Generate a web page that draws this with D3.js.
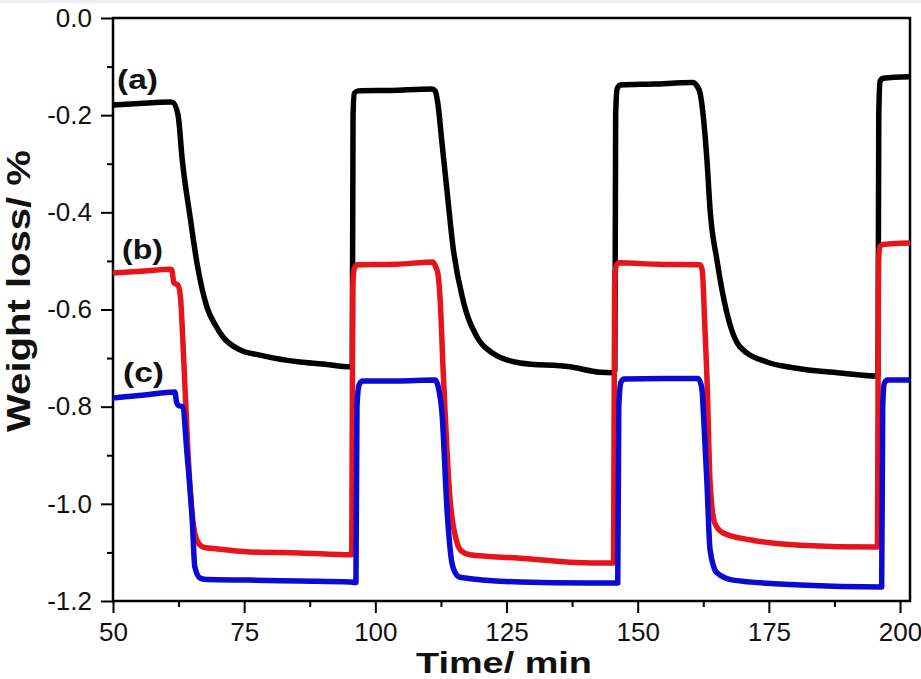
<!DOCTYPE html>
<html><head><meta charset="utf-8">
<script src="https://cdn.jsdelivr.net/npm/d3@7"></script>
<style>
html,body{margin:0;padding:0;background:#fff;}
svg{display:block;}
text{font-family:Arial,"Liberation Sans",sans-serif;}
</style></head>
<body>
<svg id="chart" width="921" height="679"></svg>
<script>
// ---- data ----
const xTicks = [50, 75, 100, 125, 150, 175, 200];
const yTicks = [0.0, -0.2, -0.4, -0.6, -0.8, -1.0, -1.2];
const seriesLabels = ["(a)", "(b)", "(c)"];
const seriesColors = ["#000000", "#e8141c", "#0a0ad2"];

const timeA = [50, 55, 60.9, 61.4, 62.4, 63.2, 64.7, 66.0, 67.9, 69.5, 71.0, 74.2, 78.0, 85.6, 90, 95.3, 95.6, 95.75, 96.0, 96.7, 103, 110.8, 111.4, 111.9, 112.7, 113.7, 114.8, 116.7, 119.4, 122.4, 127.6, 137.1, 142.8, 145.4, 145.65, 145.8, 146.1, 146.7, 153, 160.5, 161.3, 161.9, 163.2, 163.8, 165.1, 167.0, 169.5, 174.6, 179.6, 189.1, 195.6, 195.8, 195.95, 196.2, 196.8, 202];
const lossA = [-0.179, -0.176, -0.173, -0.174, -0.200, -0.292, -0.410, -0.504, -0.595, -0.632, -0.657, -0.683, -0.694, -0.708, -0.712, -0.718, -0.718, -0.20, -0.155, -0.150, -0.149, -0.146, -0.150, -0.175, -0.257, -0.360, -0.471, -0.580, -0.657, -0.690, -0.710, -0.718, -0.729, -0.730, -0.725, -0.20, -0.145, -0.138, -0.136, -0.133, -0.140, -0.155, -0.292, -0.395, -0.498, -0.607, -0.677, -0.708, -0.720, -0.731, -0.737, -0.735, -0.20, -0.130, -0.124, -0.121];

const timeB = [50, 56, 60.9, 61.2, 61.6, 62.4, 62.9, 63.3, 64.3, 65.2, 66.0, 67.2, 70, 76.1, 85.6, 95.5, 95.7, 96.0, 96.6, 104, 111.0, 111.5, 111.9, 112.4, 112.9, 113.3, 114.2, 115.6, 116.5, 118.0, 127.6, 137.1, 145.4, 145.6, 145.9, 146.4, 154, 161.9, 162.3, 162.8, 163.2, 163.8, 164.7, 166.3, 171.4, 180.9, 195.7, 195.9, 196.2, 196.8, 202];
const lossB = [-0.525, -0.521, -0.517, -0.518, -0.545, -0.550, -0.580, -0.660, -0.896, -1.033, -1.075, -1.089, -1.093, -1.099, -1.101, -1.105, -0.550, -0.515, -0.508, -0.507, -0.502, -0.512, -0.525, -0.590, -0.720, -0.813, -0.986, -1.081, -1.098, -1.105, -1.112, -1.120, -1.122, -0.550, -0.510, -0.504, -0.507, -0.508, -0.519, -0.636, -0.739, -0.957, -1.040, -1.060, -1.074, -1.085, -1.089, -0.500, -0.470, -0.466, -0.463];

const timeC = [50, 56, 61.8, 62.1, 62.4, 63.3, 64.1, 65.1, 65.6, 66.6, 68, 76.1, 85.6, 95.2, 96.3, 96.5, 96.9, 97.6, 104, 111.4, 112.0, 112.7, 113.7, 114.6, 115.3, 116.1, 127.6, 140.3, 146.2, 146.4, 146.8, 147.4, 155, 161.5, 162.2, 162.7, 163.2, 163.8, 165.1, 168.2, 180.9, 196.5, 196.7, 197.0, 197.6, 202];
const lossC = [-0.782, -0.776, -0.770, -0.790, -0.797, -0.801, -0.896, -1.033, -1.130, -1.153, -1.156, -1.157, -1.159, -1.161, -1.162, -0.800, -0.755, -0.747, -0.747, -0.745, -0.760, -0.813, -1.019, -1.122, -1.143, -1.151, -1.161, -1.163, -1.163, -0.800, -0.750, -0.743, -0.742, -0.742, -0.760, -0.850, -0.957, -1.095, -1.142, -1.157, -1.167, -1.171, -0.800, -0.752, -0.745, -0.745];

// ---- layout ----
const svg = d3.select("#chart");
const W = 921, H = 679;
const m = {left: 113, right: 910, top: 18, bottom: 601};

svg.append("rect").attr("x", 0).attr("y", 0).attr("width", W).attr("height", H).attr("fill", "#fff");
svg.append("rect").attr("x", 0).attr("y", 0).attr("width", W).attr("height", 3).attr("fill", "#eceef4");

const x = d3.scaleLinear().domain([50, 201.9]).range([m.left, m.right]);
const y = d3.scaleLinear().domain([-1.2, 0]).range([m.bottom, m.top]);

// minor ticks
const xMinor = d3.range(62.5, 201, 25);
const yMinor = d3.range(-1.1, 0, 0.2);

const fmt = v => (Math.abs(v) < 1e-9 ? 0 : v).toFixed(1);

// x axis
const gx = svg.append("g").attr("transform", `translate(0,${m.bottom})`)
  .call(d3.axisBottom(x).tickValues(xTicks).tickSize(12).tickPadding(10).tickFormat(d3.format("d")));
gx.select(".domain").remove();
gx.selectAll(".tick line").attr("stroke", "#000").attr("stroke-width", 2);
gx.selectAll(".tick text").attr("font-size", 26).attr("fill", "#111").attr("font-family", "Arial, Liberation Sans, sans-serif");
const gxm = svg.append("g").attr("transform", `translate(0,${m.bottom})`)
  .call(d3.axisBottom(x).tickValues(xMinor).tickSize(6).tickFormat(""));
gxm.select(".domain").remove();
gxm.selectAll(".tick line").attr("stroke", "#000").attr("stroke-width", 2);

// y axis
const gy = svg.append("g").attr("transform", `translate(${m.left},0)`)
  .call(d3.axisLeft(y).tickValues(yTicks).tickSize(12).tickPadding(9).tickFormat(fmt));
gy.select(".domain").remove();
gy.selectAll(".tick line").attr("stroke", "#000").attr("stroke-width", 2);
gy.selectAll(".tick text").attr("font-size", 26).attr("fill", "#111").attr("font-family", "Arial, Liberation Sans, sans-serif");
const gym = svg.append("g").attr("transform", `translate(${m.left},0)`)
  .call(d3.axisLeft(y).tickValues(yMinor).tickSize(6).tickFormat(""));
gym.select(".domain").remove();
gym.selectAll(".tick line").attr("stroke", "#000").attr("stroke-width", 2);

// frame
svg.append("rect").attr("x", m.left).attr("y", m.top)
  .attr("width", m.right - m.left).attr("height", m.bottom - m.top)
  .attr("fill", "none").attr("stroke", "#000").attr("stroke-width", 2.5);

// curves
const series = [
  {t: timeA, v: lossA},
  {t: timeB, v: lossB},
  {t: timeC, v: lossC}
];
const clip = svg.append("clipPath").attr("id", "plotclip").append("rect")
  .attr("x", m.left).attr("y", m.top - 5).attr("width", m.right - m.left).attr("height", m.bottom - m.top + 5);
const line = d3.line().x(d => x(d[0])).y(d => y(d[1])).curve(d3.curveMonotoneX);
series.forEach((s, i) => {
  const pts = s.t.map((t, j) => [t, s.v[j]]);
  svg.append("path").datum(pts)
    .attr("d", line)
    .attr("fill", "none")
    .attr("stroke", seriesColors[i])
    .attr("stroke-width", 5.5)
    .attr("stroke-linejoin", "round")
    .attr("stroke-linecap", "round")
    .attr("clip-path", "url(#plotclip)");
});

// series labels
const labelPos = [[117, 89], [122, 259], [123, 382]];
seriesLabels.forEach((s, i) => {
  svg.append("text").attr("x", labelPos[i][0]).attr("y", labelPos[i][1])
    .attr("font-size", 28).attr("font-weight", "bold").attr("fill", "#111")
    .attr("textLength", 41).attr("lengthAdjust", "spacingAndGlyphs")
    .text(s);
});

// axis titles
svg.append("text").attr("x", 416).attr("y", 673)
  .attr("font-size", 30).attr("font-weight", "bold").attr("fill", "#111")
  .attr("textLength", 176).attr("lengthAdjust", "spacingAndGlyphs")
  .text("Time/ min");
svg.append("text").attr("transform", "translate(30,432) rotate(-90)")
  .attr("font-size", 33).attr("font-weight", "bold").attr("fill", "#111")
  .attr("textLength", 282).attr("lengthAdjust", "spacingAndGlyphs")
  .text("Weight loss/ %");
</script>
</body></html>
